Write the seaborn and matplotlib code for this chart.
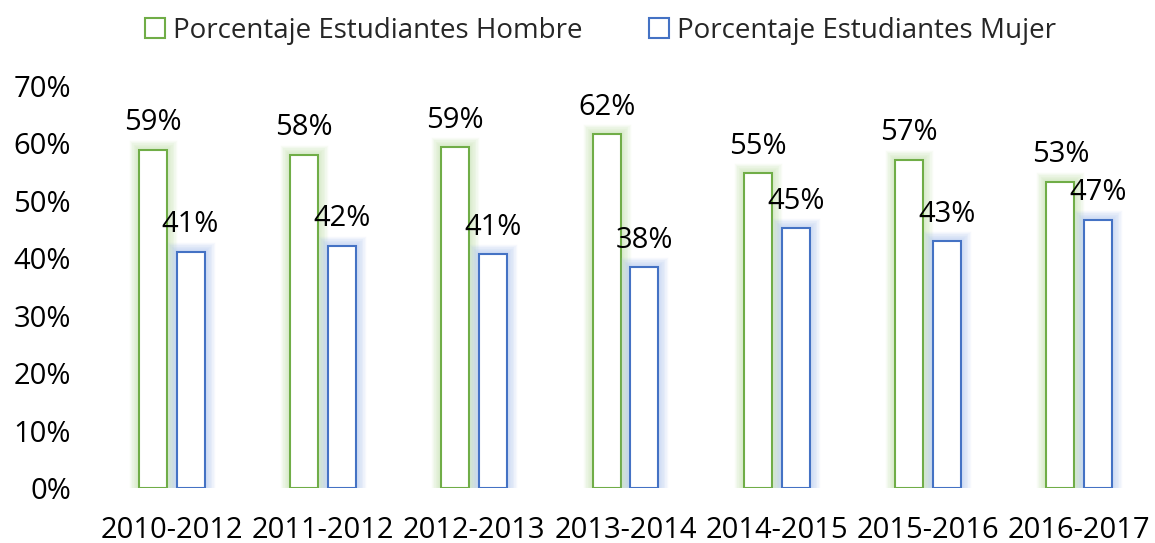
import matplotlib
matplotlib.use("Agg")
import matplotlib.pyplot as plt
import matplotlib.patheffects as pe
from matplotlib.ticker import PercentFormatter
from matplotlib.patches import Patch
import seaborn as sns
import pandas as pd

categories = ["2010-2012", "2011-2012", "2012-2013", "2013-2014", "2014-2015", "2015-2016", "2016-2017"]
hombre = [0.589, 0.580, 0.593, 0.616, 0.548, 0.572, 0.533]
mujer = [0.411, 0.422, 0.407, 0.384, 0.452, 0.430, 0.467]
series_names = ["Porcentaje Estudiantes Hombre", "Porcentaje Estudiantes Mujer"]
edge_colors = ["#70AD47", "#4472C4"]
glow_colors = ["#B4DA98", "#9DB8EC"]

df = pd.DataFrame({
    "cat": categories * 2,
    "val": hombre + mujer,
    "serie": [series_names[0]] * len(categories) + [series_names[1]] * len(categories),
})

sns.set_theme(style="white")
plt.rcParams["font.family"] = ["Open Sans", "DejaVu Sans"]

fig = plt.figure(figsize=(11.55, 5.43), dpi=100)
ax = fig.add_axes([96 / 1155, 55 / 543, 1059 / 1155, 402 / 543])

sns.barplot(data=df, x="cat", y="val", hue="serie", ax=ax, width=0.50, gap=0.26,
            palette=["white", "white"], legend=False)

n = len(categories)
for i, p in enumerate(ax.patches[:2 * n]):
    s = i // n
    p.set_edgecolor(edge_colors[s])
    p.set_linewidth(1.5)
    effects = [pe.Stroke(linewidth=w, foreground=glow_colors[s], alpha=0.09)
               for w in (14, 12, 10, 8, 6, 4)]
    effects.append(pe.Normal())
    p.set_path_effects(effects)
    h = p.get_height()
    ax.annotate(f"{round(h * 100):.0f}%", (p.get_x() + p.get_width() / 2, h),
                xytext=(0, 9), textcoords="offset points",
                ha="center", va="bottom", fontsize=21, color="black")

ax.set_ylim(0, 0.70)
ax.set_xlim(-0.5, n - 0.5)
ax.set_yticks([i / 10 for i in range(8)])
ax.yaxis.set_major_formatter(PercentFormatter(1.0, decimals=0))
ax.set_xlabel("")
ax.set_ylabel("")
for sp in ax.spines.values():
    sp.set_visible(False)
ax.tick_params(axis="both", labelsize=21, colors="black", length=0)
ax.tick_params(axis="y", pad=18)
ax.tick_params(axis="x", pad=20)

handles = [Patch(facecolor="white", edgecolor=edge_colors[k], linewidth=1.5) for k in range(2)]
fig.legend(handles, series_names, loc="upper center", bbox_to_anchor=(0.52, 1.015), ncol=2,
           frameon=False, fontsize=20, handlelength=0.7, handleheight=0.7,
           handletextpad=0.3, columnspacing=2.4)

fig.savefig("out.png", dpi=100, facecolor="white")
